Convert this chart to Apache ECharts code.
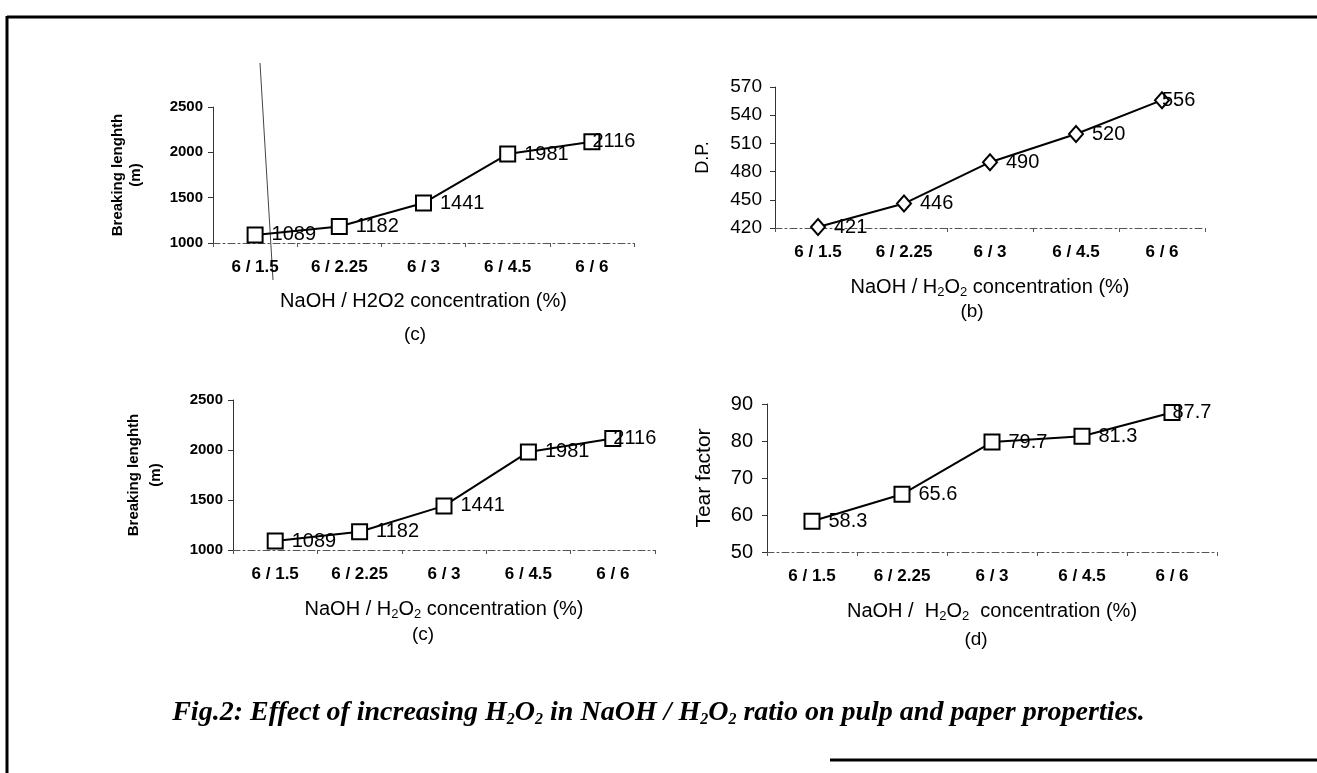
<!DOCTYPE html>
<html>
<head>
<meta charset="utf-8">
<title>Fig.2</title>
<script src="https://cdn.jsdelivr.net/npm/echarts@6.0.0/dist/echarts.min.js"></script>
<style>
  html, body { margin: 0; padding: 0; background: #fff; }
  #chart { width: 1317px; height: 773px; }
</style>
</head>
<body>
<div id="chart"></div>
<script>
// values
const categories = ['6 / 1.5', '6 / 2.25', '6 / 3', '6 / 4.5', '6 / 6']
const breakingLength = [1089, 1182, 1441, 1981, 2116]
const degreeOfPolymerization = [421, 446, 490, 520, 556]
const tearFactor = [58.3, 65.6, 79.7, 81.3, 87.7]

const breakingTicks = { min: 1000, max: 2500, interval: 500 }
const dpTicks = { min: 420, max: 570, interval: 30 }
const tearTicks = { min: 50, max: 90, interval: 10 }

const SANS = "'Liberation Sans', Arial, Helvetica, sans-serif"
const SERIF = "'Liberation Serif', 'Times New Roman', serif"

const subRich = {
  n: { fontFamily: SANS, fontSize: 20, color: '#000' },
  s: { fontFamily: SANS, fontSize: 13, color: '#000', padding: [10, 0, 0, 0] }
}

const xNamePlain = 'NaOH / H2O2 concentration (%)'
const xNameSub = '{n|NaOH / H}{s|2}{n|O}{s|2}{n| concentration (%)}'
const xNameSubWide = '{n|NaOH /  H}{s|2}{n|O}{s|2}{n|  concentration (%)}'

const panels = [
  // top left
  { grid: { left: 213, top: 107, width: 421, height: 136 }, ticks: breakingTicks, values: breakingLength,
    yName: 'Breaking lenghth\n(m)', yNameGap: 68, yNameBold: true, yNameSize: 15, yNameLH: 18,
    yLabelBold: true, yLabelSize: 15, yLabelMargin: 10, xName: xNamePlain, symbol: 'rect', symbolSize: 15 },
  // top right
  { grid: { left: 775, top: 87, width: 430, height: 141 }, ticks: dpTicks, values: degreeOfPolymerization,
    yName: 'D.P.', yNameGap: 62, yNameBold: false, yNameSize: 18, yNameLH: 20,
    yLabelBold: false, yLabelSize: 19, yLabelMargin: 13, xName: xNameSub, symbol: 'diamond', symbolSize: [14, 16] },
  // bottom left
  { grid: { left: 233, top: 400, width: 422, height: 150 }, ticks: breakingTicks, values: breakingLength,
    yName: 'Breaking lenghth\n(m)', yNameGap: 66, yNameBold: true, yNameSize: 15, yNameLH: 22,
    yLabelBold: true, yLabelSize: 15, yLabelMargin: 10, xName: xNameSub, symbol: 'rect', symbolSize: 15 },
  // bottom right
  { grid: { left: 767, top: 404, width: 450, height: 148 }, ticks: tearTicks, values: tearFactor,
    yName: 'Tear factor', yNameGap: 52, yNameBold: false, yNameSize: 21, yNameLH: 22,
    yLabelBold: false, yLabelSize: 20, yLabelMargin: 14, xName: xNameSubWide, symbol: 'rect', symbolSize: 15 }
]

const grids = []
const xAxes = []
const yAxes = []
const series = []

panels.forEach((p, i) => {
  grids.push(Object.assign({ containLabel: false, outerBoundsMode: 'none' }, p.grid))

  xAxes.push({
    type: 'category',
    gridIndex: i,
    data: categories,
    boundaryGap: true,
    name: p.xName,
    nameLocation: 'middle',
    nameGap: 48,
    nameTextStyle: {
      fontFamily: SANS,
      fontSize: 20,
      color: '#000',
      rich: subRich
    },
    axisLine: { lineStyle: { color: '#555', width: 1, type: [7, 3, 2, 3] } },
    axisTick: { show: true, length: 4, lineStyle: { color: '#555' } },
    axisLabel: {
      margin: 16,
      fontFamily: SANS,
      fontSize: 17,
      fontWeight: 'bold',
      color: '#000'
    },
    splitLine: { show: false }
  })

  yAxes.push({
    type: 'value',
    gridIndex: i,
    min: p.ticks.min,
    max: p.ticks.max,
    interval: p.ticks.interval,
    name: p.yName,
    nameLocation: 'middle',
    nameRotate: 90,
    nameGap: p.yNameGap,
    nameTextStyle: {
      fontFamily: SANS,
      fontSize: p.yNameSize,
      fontWeight: p.yNameBold ? 'bold' : 'normal',
      lineHeight: p.yNameLH,
      color: '#000'
    },
    axisLine: { show: true, lineStyle: { color: '#333', width: 1 } },
    axisTick: { show: true, length: 5, lineStyle: { color: '#333' } },
    axisLabel: {
      margin: p.yLabelMargin,
      fontFamily: SANS,
      fontSize: p.yLabelSize,
      fontWeight: p.yLabelBold ? 'bold' : 'normal',
      color: '#000',
      formatter: v => String(v)
    },
    splitLine: { show: false }
  })

  const last = p.values.length - 1
  series.push({
    type: 'line',
    xAxisIndex: i,
    yAxisIndex: i,
    data: p.values.map((v, k) => k === last ? { value: v, label: { distance: -8 } } : v),
    symbol: p.symbol,
    symbolSize: p.symbolSize,
    showAllSymbol: true,
    lineStyle: { color: '#000', width: 2 },
    itemStyle: { color: '#fff', borderColor: '#000', borderWidth: 2 },
    label: {
      show: true,
      position: 'right',
      distance: 8,
      fontFamily: SANS,
      fontSize: 20,
      color: '#000'
    },
    emphasis: { disabled: true },
    animation: false
  })
})

const subTag = (text, x, y) => ({
  type: 'text',
  x: x,
  y: y,
  style: {
    text: text,
    fontFamily: SANS,
    fontSize: 19,
    fill: '#000',
    align: 'center',
    verticalAlign: 'middle'
  }
})

const option = {
  backgroundColor: '#fff',
  animation: false,
  title: {
    text: '{a|Fig.2: Effect of increasing H}{s|2}{a|O}{s|2}{a| in NaOH / H}{s|2}{a|O}{s|2}{a| ratio on pulp and paper properties.}',
    left: 'center',
    top: 693,
    textStyle: {
      rich: {
        a: { fontFamily: SERIF, fontSize: 28, fontWeight: 'bold', fontStyle: 'italic', color: '#000' },
        s: { fontFamily: SERIF, fontSize: 16, fontWeight: 'bold', fontStyle: 'italic', color: '#000', padding: [14, 0, 0, 0] }
      }
    }
  },
  grid: grids,
  xAxis: xAxes,
  yAxis: yAxes,
  series: series,
  graphic: [
    // frame of the scanned figure
    { type: 'line', shape: { x1: 7, y1: 17, x2: 1317, y2: 17 }, style: { stroke: '#000', lineWidth: 3 } },
    { type: 'line', shape: { x1: 7, y1: 16, x2: 7, y2: 773 }, style: { stroke: '#000', lineWidth: 3 } },
    { type: 'line', shape: { x1: 830, y1: 760, x2: 1317, y2: 760 }, style: { stroke: '#000', lineWidth: 3 } },
    // stray pen line on the scan
    { type: 'line', shape: { x1: 260, y1: 63, x2: 273, y2: 280 }, style: { stroke: '#444', lineWidth: 1 } },
    subTag('(c)', 415, 335),
    subTag('(b)', 972, 312),
    subTag('(c)', 423, 635),
    subTag('(d)', 976, 640)
  ]
}

const myChart = echarts.init(document.getElementById('chart'))
myChart.setOption(option)

window.addEventListener('resize', () => {
  myChart.resize()
})
</script>
</body>
</html>
